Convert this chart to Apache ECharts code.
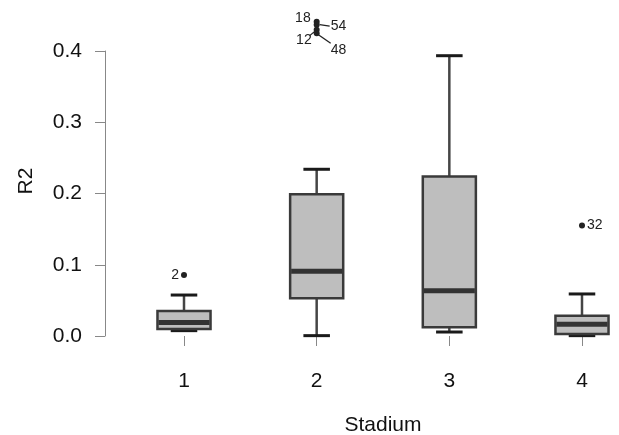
<!DOCTYPE html>
<html><head><meta charset="utf-8">
<script src="https://cdn.jsdelivr.net/npm/echarts@6/dist/echarts.min.js"></script>
<style>html,body{margin:0;padding:0;background:#fff}#c{width:619px;height:435px}</style>
</head><body><div id="c"></div>
<script>
// ---- data ----
const categories = ['1', '2', '3', '4'];
const whiskerLow  = [0.0075, 0.0005, 0.0056, 0.0005];
const quart1      = [0.0098, 0.0529, 0.0122, 0.0028];
const median      = [0.0190, 0.0908, 0.0636, 0.0164];
const quart3      = [0.0350, 0.1990, 0.2240, 0.0285];
const whiskerHigh = [0.0575, 0.2340, 0.3934, 0.0590];
const outlierStadium = ['1', '2', '2', '2', '2', '4'];
const outlierValue   = [0.0856, 0.441, 0.437, 0.430, 0.425, 0.155];
const outlierId      = ['2', '18', '54', '12', '48', '32'];
const yMin = 0, yMax = 0.4, yStep = 0.1;

// ---- styles / label placement ----
const FONT = 'Liberation Sans, Arial, sans-serif';
const labelPlace = {
  '2':  {dx: -5, dy: 0,  align: 'right'},
  '18': {dx: -6, dy: -4, align: 'right'},
  '54': {dx: 14, dy: 2,  align: 'left', line: [3, 0, 13, 1.5]},
  '12': {dx: -5, dy: 11, align: 'right', line: [-1, 1, -7, 6]},
  '48': {dx: 14, dy: 17, align: 'left', line: [1, 1, 14, 10]},
  '32': {dx: 5,  dy: 0,  align: 'left'}
};

const boxData = categories.map((c, i) => [i, whiskerLow[i], quart1[i], median[i], quart3[i], whiskerHigh[i]]);
const outData = outlierValue.map((v, i) => [categories.indexOf(outlierStadium[i]), v, i]);

const chart = echarts.init(document.getElementById('c'));
chart.setOption({
  animation: false,
  backgroundColor: '#fff',
  grid: {left: 117.67, right: -29.33, top: 51, bottom: 99, containLabel: false, outerBoundsMode: 'none'},
  xAxis: {
    type: 'category', data: categories, boundaryGap: true, offset: 17,
    axisLine: {show: false},
    axisTick: {show: true, alignWithLabel: true, length: 10, lineStyle: {color: '#888', width: 1}},
    axisLabel: {margin: 18, fontSize: 21, color: '#111', fontFamily: FONT},
    name: 'Stadium', nameLocation: 'middle', nameGap: 62,
    nameTextStyle: {fontSize: 21, color: '#111', fontFamily: FONT},
    splitLine: {show: false}
  },
  yAxis: {
    type: 'value', min: yMin, max: yMax, interval: yStep, offset: 12.67,
    axisLine: {show: true, lineStyle: {color: '#888', width: 1}},
    axisTick: {show: true, length: 10, lineStyle: {color: '#888', width: 1}},
    axisLabel: {margin: 23, fontSize: 21, color: '#111', fontFamily: FONT, formatter: v => v.toFixed(1)},
    name: 'R2', nameLocation: 'middle', nameGap: 68, nameRotate: 90,
    nameTextStyle: {fontSize: 21, color: '#111', fontFamily: FONT, padding: [0, 0, 0, 25]},
    splitLine: {show: false}
  },
  series: [
    {
      type: 'custom', data: boxData, clip: false,
      renderItem(params, api) {
        const i = api.value(0);
        const x = api.coord([i, api.value(3)])[0];
        const band = api.size([1, 0])[0];
        const bw = band * 0.4, cw = band * 0.2;
        const yL = api.coord([i, api.value(1)])[1];
        const yQ1 = api.coord([i, api.value(2)])[1];
        const yM = api.coord([i, api.value(3)])[1];
        const yQ3 = api.coord([i, api.value(4)])[1];
        const yH = api.coord([i, api.value(5)])[1];
        const wS = {stroke: '#454545', lineWidth: 2.5};
        const cS = {stroke: '#1a1a1a', lineWidth: 3};
        return {type: 'group', children: [
          {type: 'line', shape: {x1: x, y1: yH, x2: x, y2: yQ3}, style: wS},
          {type: 'line', shape: {x1: x, y1: yQ1, x2: x, y2: yL}, style: wS},
          {type: 'line', shape: {x1: x - cw / 2, y1: yH, x2: x + cw / 2, y2: yH}, style: cS},
          {type: 'line', shape: {x1: x - cw / 2, y1: yL, x2: x + cw / 2, y2: yL}, style: cS},
          {type: 'rect', shape: {x: x - bw / 2, y: yQ3, width: bw, height: yQ1 - yQ3},
            style: {fill: '#bebebe', stroke: '#3a3a3a', lineWidth: 2.5}},
          {type: 'line', shape: {x1: x - bw / 2 + 1, y1: yM, x2: x + bw / 2 - 1, y2: yM},
            style: {stroke: '#333', lineWidth: 5}}
        ]};
      }
    },
    {
      type: 'custom', data: outData, clip: false,
      renderItem(params, api) {
        const c = api.coord([api.value(0), api.value(1)]);
        const id = outlierId[api.value(2)];
        const p = labelPlace[id] || {dx: 6, dy: 0, align: 'left'};
        const children = [
          {type: 'circle', shape: {cx: c[0], cy: c[1], r: 3}, style: {fill: '#222'}},
          {type: 'text', style: {text: id, x: c[0] + p.dx, y: c[1] + p.dy, align: p.align,
            verticalAlign: 'middle', fontSize: 14, fontFamily: FONT, fill: '#222'}}
        ];
        if (p.line) {
          children.push({type: 'line', shape: {x1: c[0] + p.line[0], y1: c[1] + p.line[1],
            x2: c[0] + p.line[2], y2: c[1] + p.line[3]}, style: {stroke: '#222', lineWidth: 1.3}});
        }
        return {type: 'group', children};
      }
    }
  ]
});
</script>
</body></html>
